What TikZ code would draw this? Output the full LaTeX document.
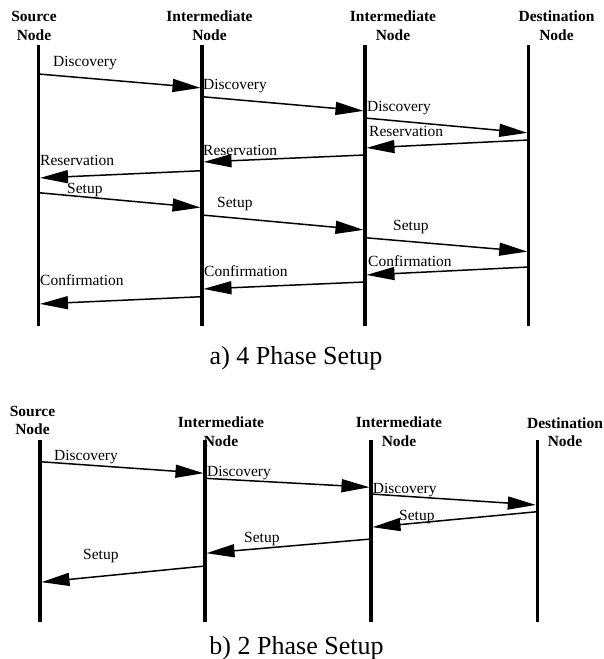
\documentclass[tikz,border=0pt]{standalone}
\usepackage{fontspec}
\setmainfont{Liberation Serif}
\usetikzlibrary{arrows.meta}
\begin{document}
\begin{tikzpicture}[x=1pt,y=-1pt,
  life/.style={line width=3.2pt},
  msg/.style={line width=1.5pt,-{Triangle[length=28pt,width=13pt]},shorten >=1.5pt},
  hdr/.style={font=\fontsize{15.5}{18}\selectfont\bfseries,anchor=base,inner sep=0pt},
  lbl/.style={font=\fontsize{15.5}{18}\selectfont,anchor=base west,inner sep=0pt},
  capt/.style={font=\fontsize{26}{30}\selectfont,anchor=base,inner sep=0pt}]
\useasboundingbox (0,0) rectangle (604,659);

% ===================== a) 4 Phase Setup =====================
% headers
\node[hdr] (aSh1) at (34,21.7) {Source};
\node[hdr] (aSh2) at (34,40) {Node};
\node[hdr] (aI1h1) at (209.5,21.7) {Intermediate};
\node[hdr] (aI1h2) at (209.5,40) {Node};
\node[hdr] (aI2h1) at (393,21.7) {Intermediate};
\node[hdr] (aI2h2) at (393,40) {Node};
\node[hdr] (aDh1) at (556.5,21.7) {Destination};
\node[hdr] (aDh2) at (556.5,40) {Node};

% lifelines
\coordinate (aSt) at (38.5,45);  \coordinate (aSb) at (38.5,326);
\coordinate (aI1t) at (202,45);  \coordinate (aI1b) at (202,326);
\coordinate (aI2t) at (365,45);  \coordinate (aI2b) at (365,326);
\coordinate (aDt) at (528.7,45); \coordinate (aDb) at (528.7,326);
\draw[life] (aSt) -- (aSb);
\draw[life] (aI1t) -- (aI1b);
\draw[life] (aI2t) -- (aI2b);
\draw[life] (aDt) -- (aDb);

% message end points
\coordinate (aD1s) at (38.5,74);    \coordinate (aD1e) at (202,88);
\coordinate (aD2s) at (202,96.7);   \coordinate (aD2e) at (365,111);
\coordinate (aD3s) at (365,118);    \coordinate (aD3e) at (528.7,133);
\coordinate (aR1s) at (528.7,140);  \coordinate (aR1e) at (365,148);
\coordinate (aR2s) at (365,155);    \coordinate (aR2e) at (202,162);
\coordinate (aR3s) at (202,170.7);  \coordinate (aR3e) at (38.5,178);
\coordinate (aS1s) at (38.5,192.7); \coordinate (aS1e) at (202,207.7);
\coordinate (aS2s) at (202,215);    \coordinate (aS2e) at (365,230);
\coordinate (aS3s) at (365,237.7);  \coordinate (aS3e) at (528.7,251.7);
\coordinate (aC1s) at (528.7,267);  \coordinate (aC1e) at (365,275);
\coordinate (aC2s) at (365,282);    \coordinate (aC2e) at (202,289);
\coordinate (aC3s) at (202,296.7);  \coordinate (aC3e) at (38.5,304);

\draw[msg] (aD1s) -- (aD1e);
\draw[msg] (aD2s) -- (aD2e);
\draw[msg] (aD3s) -- (aD3e);
\draw[msg] (aR1s) -- (aR1e);
\draw[msg] (aR2s) -- (aR2e);
\draw[msg] (aR3s) -- (aR3e);
\draw[msg] (aS1s) -- (aS1e);
\draw[msg] (aS2s) -- (aS2e);
\draw[msg] (aS3s) -- (aS3e);
\draw[msg] (aC1s) -- (aC1e);
\draw[msg] (aC2s) -- (aC2e);
\draw[msg] (aC3s) -- (aC3e);

% labels
\node[lbl] (aLD1) at (53,66.7) {Discovery};
\node[lbl] (aLD2) at (203,89.3) {Discovery};
\node[lbl] (aLD3) at (367,111) {Discovery};
\node[lbl] (aLR1) at (369,136.7) {Reservation};
\node[lbl] (aLR2) at (203,155.7) {Reservation};
\node[lbl] (aLR3) at (40,165) {Reservation};
\node[lbl] (aLS1) at (67,193.3) {Setup};
\node[lbl] (aLS2) at (217,207.3) {Setup};
\node[lbl] (aLS3) at (393,230) {Setup};
\node[lbl] (aLC1) at (368,266.7) {Confirmation};
\node[lbl] (aLC2) at (204,276.7) {Confirmation};
\node[lbl] (aLC3) at (40,285.7) {Confirmation};

\node[capt] (capa) at (296,364) {a) 4 Phase Setup};

% ===================== b) 2 Phase Setup =====================
\node[hdr] (bSh1) at (32.5,416.7) {Source};
\node[hdr] (bSh2) at (32.5,434.3) {Node};
\node[hdr] (bI1h1) at (221,427.3) {Intermediate};
\node[hdr] (bI1h2) at (221,446) {Node};
\node[hdr] (bI2h1) at (399,427.3) {Intermediate};
\node[hdr] (bI2h2) at (399,446) {Node};
\node[hdr] (bDh1) at (565,428.3) {Destination};
\node[hdr] (bDh2) at (565,446.7) {Node};

\coordinate (bSt) at (40,440);    \coordinate (bSb) at (40,622);
\coordinate (bI1t) at (205,440);  \coordinate (bI1b) at (205,622);
\coordinate (bI2t) at (371,440);  \coordinate (bI2b) at (371,622);
\coordinate (bDt) at (537.3,440); \coordinate (bDb) at (537.3,622);
\draw[life] (bSt) -- (bSb);
\draw[life] (bI1t) -- (bI1b);
\draw[life] (bI2t) -- (bI2b);
\draw[life] (bDt) -- (bDb);

\coordinate (bD1s) at (40,461.7);   \coordinate (bD1e) at (205,473.3);
\coordinate (bD2s) at (205,478.3);  \coordinate (bD2e) at (371,487.3);
\coordinate (bD3s) at (371,494);    \coordinate (bD3e) at (537.3,505);
\coordinate (bS1s) at (537.3,511.7);\coordinate (bS1e) at (371,527.3);
\coordinate (bS2s) at (371,539);    \coordinate (bS2e) at (205,553.3);
\coordinate (bS3s) at (205,566);    \coordinate (bS3e) at (40,582.3);

\draw[msg] (bD1s) -- (bD1e);
\draw[msg] (bD2s) -- (bD2e);
\draw[msg] (bD3s) -- (bD3e);
\draw[msg] (bS1s) -- (bS1e);
\draw[msg] (bS2s) -- (bS2e);
\draw[msg] (bS3s) -- (bS3e);

\node[lbl] (bLD1) at (54,460) {Discovery};
\node[lbl] (bLD2) at (207,476.7) {Discovery};
\node[lbl] (bLD3) at (372.7,493.3) {Discovery};
\node[lbl] (bLS1) at (399,520.7) {Setup};
\node[lbl] (bLS2) at (244,542.7) {Setup};
\node[lbl] (bLS3) at (83,559.3) {Setup};

\node[capt] (capb) at (296.5,654) {b) 2 Phase Setup};
\end{tikzpicture}
\end{document}
